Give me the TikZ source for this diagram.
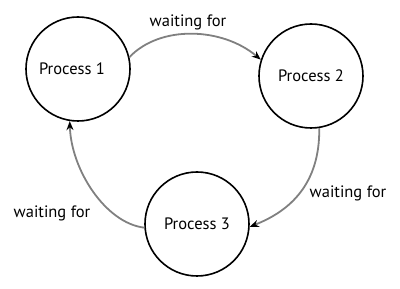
\documentclass[tikz,border=0pt]{standalone}
\usepackage{fontspec}
\setmainfont{PT Sans}
\usetikzlibrary{arrows.meta}
\begin{document}
\begin{tikzpicture}[x=1pt,y=1pt,
  proc/.style={circle,draw=black,line width=1.6pt,minimum size=104pt,inner sep=0pt,font=\fontsize{16.5}{19}\selectfont},
  lbl/.style={font=\fontsize{16.5}{19}\selectfont},
  link/.style={draw=black!50,line width=1.8pt,-{Stealth[length=9pt,width=7pt,black]}}]
\useasboundingbox (0,0) rectangle (400,289);
\node[proc] (p1) at (78,220) {};
\node[font=\fontsize{16.5}{19}\selectfont] (t1) at (72,220) {Process 1};
\node[proc] (p2) at (311,213) {Process 2};
\node[proc] (p3) at (197,65) {Process 3};
\node[lbl] (l1) at (188,267) {waiting for};
\node[lbl] (l2) at (348,96) {waiting for};
\node[lbl] (l3) at (52,76) {waiting for};
\draw[link] (p1.13) .. controls (160,264) and (222,262) .. (p2.162);
\draw[link] (p2.-81) .. controls (320,105) and (290,78) .. (p3.-3);
\draw[link] (p3.184) .. controls (105,66) and (71,120) .. (p1.-99);
\end{tikzpicture}
\end{document}
